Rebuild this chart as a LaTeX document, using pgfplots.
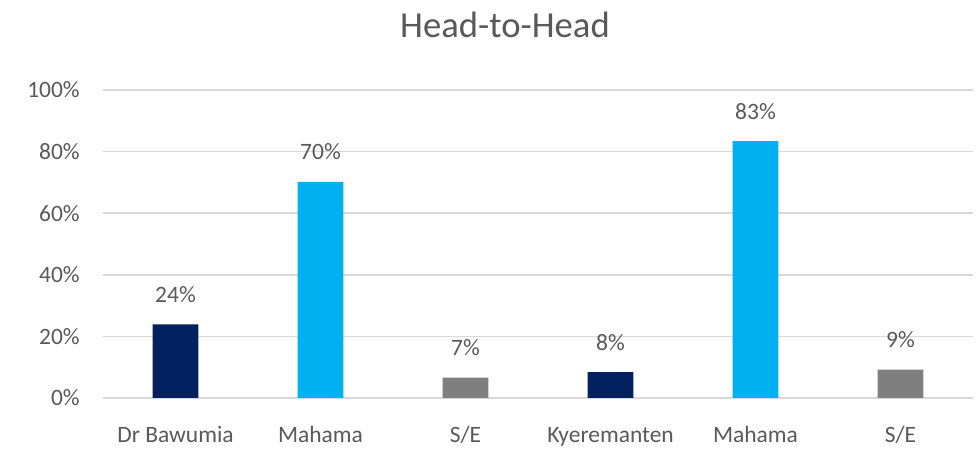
\documentclass[border=0pt]{standalone}
\usepackage{pgfplots}
\pgfplotsset{compat=1.18}
\usepackage{fontspec}
\setmainfont{Carlito}
\definecolor{navy}{HTML}{002060}
\definecolor{sky}{HTML}{00B0F0}
\definecolor{grayb}{HTML}{7F7F7F}
\definecolor{txt}{HTML}{595959}
\definecolor{gridc}{HTML}{D9D9D9}
\begin{document}
\begin{tikzpicture}
\path[use as bounding box] (0,0) rectangle (732pt,336.75pt);
\node[text=txt, font=\fontsize{27.5}{33}\selectfont] at (378.75pt,318pt) {Head-to-Head};
\begin{axis}[
  at={(77.25pt,38.25pt)}, anchor=south west,
  scale only axis, width=652.5pt, height=231pt,
  xmin=-0.5, xmax=5.5, ymin=0, ymax=100,
  xtick={0,1,2,3,4,5},
  xticklabels={Dr Bawumia, Mahama, S/E, Kyeremanten, Mahama, S/E},
  ytick={0,20,40,60,80,100},
  yticklabel={\pgfmathprintnumber{\tick}\%},
  /pgf/number format/assume math mode=true,
  axis line style={draw=none},
  major tick length=0pt,
  ymajorgrids, grid style={gridc, line width=1.2pt},
  xticklabel style={anchor=base, inner sep=0pt, yshift=-33.75pt, text=txt, font=\fontsize{17.6}{21}\selectfont},
  yticklabel style={anchor=east, inner sep=0pt, xshift=-17.25pt, text=txt, font=\fontsize{17.6}{21}\selectfont},
  ybar, bar width=34.3pt, bar shift=0pt,
  nodes near coords={\pgfmathprintnumber[fixed, precision=0]{\pgfplotspointmeta}\%},
  every node near coord/.append style={anchor=south, inner sep=0pt, yshift=16pt, text=txt, font=\fontsize{17.6}{21}\selectfont},
]
\draw[gridc, line width=1.2pt] (axis cs:-0.5,0) -- (axis cs:5.5,0);
\addplot[fill=navy, draw=none] coordinates {(0,23.9) (3,8.4)};
\addplot[fill=sky, draw=none] coordinates {(1,70.2) (4,83.4)};
\addplot[fill=grayb, draw=none] coordinates {(2,6.6) (5,9.2)};
\end{axis}
\end{tikzpicture}
\end{document}
